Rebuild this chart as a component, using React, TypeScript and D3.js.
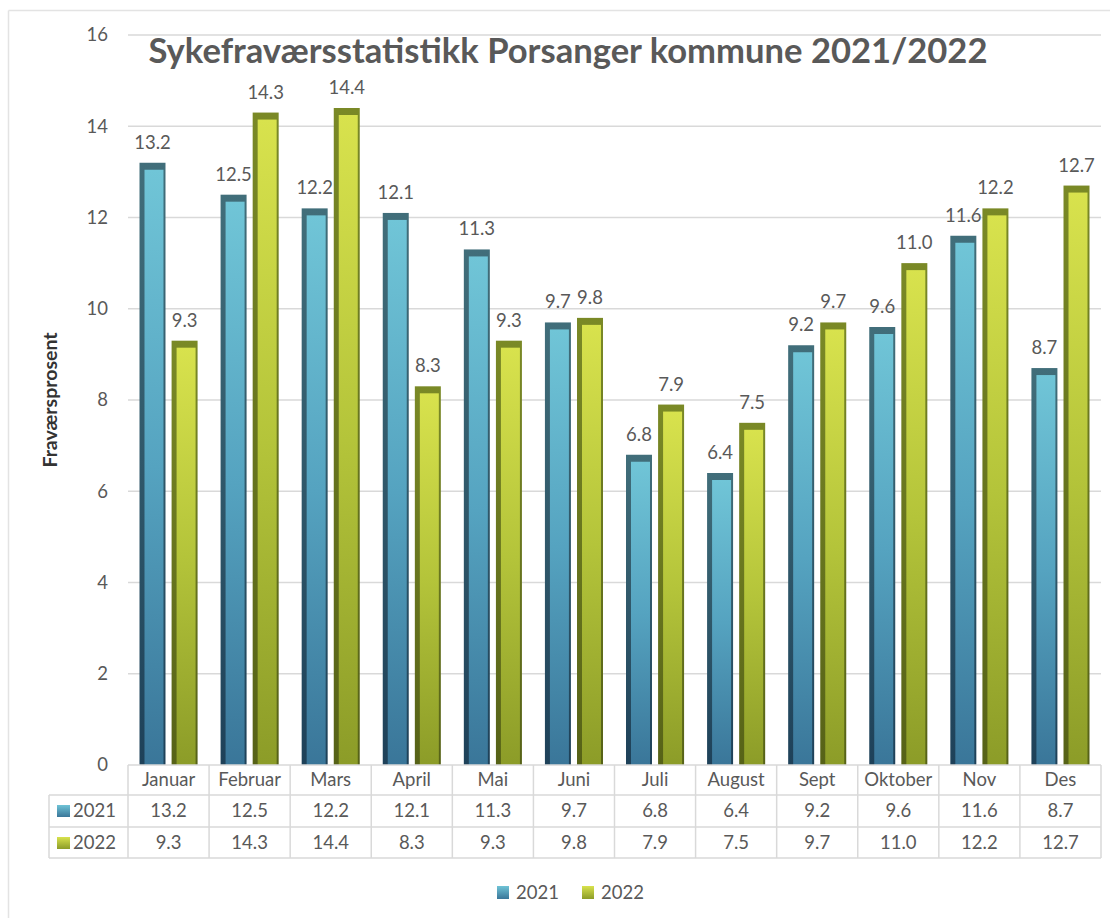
import React from "react";
import * as d3 from "d3";

const months = ["Januar", "Februar", "Mars", "April", "Mai", "Juni", "Juli", "August", "Sept", "Oktober", "Nov", "Des"];
const series = ["2021", "2022"];
const values2021 = [13.2, 12.5, 12.2, 12.1, 11.3, 9.7, 6.8, 6.4, 9.2, 9.6, 11.6, 8.7];
const values2022 = [9.3, 14.3, 14.4, 8.3, 9.3, 9.8, 7.9, 7.5, 9.7, 11.0, 12.2, 12.7];
const yTicks = [0, 2, 4, 6, 8, 10, 12, 14, 16];
const title = "Sykefraværsstatistikk Porsanger kommune 2021/2022";
const yTitle = "Fraværsprosent";

const FONT = "Lato, 'Open Sans', sans-serif";
const TXT = "#595959";
const GRID = "#d9d9d9";
const FS = 18.5;

export default function App() {
  const W = 1110, H = 918;
  const left = 128, right = 1101, top = 35, bottom = 765;
  const x = d3.scaleBand<string>().domain(months).range([left, right]).padding(0);
  const bw = x.bandwidth();
  const groupPad = 11.5;
  const xs = d3.scaleBand<string>().domain(series).range([groupPad, bw - groupPad]).paddingInner(0.19);
  const y = d3.scaleLinear().domain([0, 16]).range([bottom, top]);
  const data = [values2021, values2022];
  const rowTop = [765, 795, 827, 858];
  const tableLeft = 49;

  const bar = (s: number, i: number, v: number) => {
    const x0 = (x(months[i]) as number) + (xs(series[s]) as number);
    const w = xs.bandwidth();
    const y0 = y(v);
    const h = y(0) - y0;
    return (
      <g key={`b${s}-${i}`}>
        <rect x={x0} y={y0} width={w} height={h} fill={`url(#border${s})`} />
        <rect x={x0 + 5} y={y0 + 7} width={w - 7} height={Math.max(0, h - 7)} fill={`url(#fill${s})`} />
        <text x={x0 + w / 2} y={y0 - 14} textAnchor="middle" fontSize={FS} fill={TXT} fontFamily={FONT}>
          {v.toFixed(1)}
        </text>
      </g>
    );
  };

  return (
    <svg width={W} height={H} style={{ position: "absolute", left: 0, top: 0, background: "#fff" }}>
      <defs>
        <linearGradient id="fill0" x1="0" y1="0" x2="0" y2="1">
          <stop offset="0" stopColor="#70c5d7" />
          <stop offset="0.5" stopColor="#55a3c0" />
          <stop offset="1" stopColor="#3a7699" />
        </linearGradient>
        <linearGradient id="border0" x1="0" y1="0" x2="0" y2="1">
          <stop offset="0" stopColor="#416e7a" />
          <stop offset="1" stopColor="#1e4159" />
        </linearGradient>
        <linearGradient id="fill1" x1="0" y1="0" x2="0" y2="1">
          <stop offset="0" stopColor="#d8e24d" />
          <stop offset="0.5" stopColor="#b4c43a" />
          <stop offset="1" stopColor="#8c9c28" />
        </linearGradient>
        <linearGradient id="border1" x1="0" y1="0" x2="0" y2="1">
          <stop offset="0" stopColor="#7a8926" />
          <stop offset="1" stopColor="#566217" />
        </linearGradient>
        <linearGradient id="key0" x1="0" y1="0" x2="0" y2="1">
          <stop offset="0" stopColor="#6fc3d6" />
          <stop offset="1" stopColor="#3a7699" />
        </linearGradient>
        <linearGradient id="key1" x1="0" y1="0" x2="0" y2="1">
          <stop offset="0" stopColor="#d8e24d" />
          <stop offset="1" stopColor="#8c9c28" />
        </linearGradient>
      </defs>

      {/* outer frame */}
      <line x1={8.5} y1={10.5} x2={W} y2={10.5} stroke="#e3e3e3" strokeWidth={1.5} />
      <line x1={8.5} y1={10.5} x2={8.5} y2={H} stroke="#e3e3e3" strokeWidth={1.5} />

      {/* gridlines */}
      {yTicks.filter(t => t > 0).map(t => (
        <line key={`g${t}`} x1={left} x2={right} y1={y(t)} y2={y(t)} stroke={GRID} strokeWidth={1.5} />
      ))}
      {yTicks.map(t => (
        <text key={`t${t}`} x={108} y={y(t)} dy="0.35em" textAnchor="end" fontSize={FS} fill={TXT} fontFamily={FONT}>
          {t}
        </text>
      ))}

      {/* title */}
      <text x={568} y={63} textAnchor="middle" fontSize={34.6} fontWeight="bold" fill={TXT} fontFamily={FONT}>
        {title}
      </text>

      {/* y axis title */}
      <text transform="translate(57,400) rotate(-90)" textAnchor="middle" fontSize={19.5} fontWeight="bold" fill="#333" fontFamily={FONT}>
        {yTitle}
      </text>

      {/* bars */}
      {data.map((vals, s) => vals.map((v, i) => bar(s, i, v)))}

      {/* table */}
      <g stroke={GRID} strokeWidth={1.5} fill="none">
        <line x1={left} x2={right} y1={rowTop[0]} y2={rowTop[0]} />
        <line x1={tableLeft} x2={right} y1={rowTop[1]} y2={rowTop[1]} />
        <line x1={tableLeft} x2={right} y1={rowTop[2]} y2={rowTop[2]} />
        <line x1={tableLeft} x2={right} y1={rowTop[3]} y2={rowTop[3]} />
        <line x1={tableLeft} x2={tableLeft} y1={rowTop[1]} y2={rowTop[3]} />
        {months.map(m => (
          <line key={`v${m}`} x1={x(m) as number} x2={x(m) as number} y1={rowTop[0]} y2={rowTop[3]} />
        ))}
        <line x1={right} x2={right} y1={rowTop[0]} y2={rowTop[3]} />
      </g>
      {months.map(m => (
        <text key={`m${m}`} x={(x(m) as number) + bw / 2} y={(rowTop[0] + rowTop[1]) / 2} dy="0.35em" textAnchor="middle" fontSize={FS} fill={TXT} fontFamily={FONT}>
          {m}
        </text>
      ))}
      {data.map((vals, s) => (
        <g key={`row${s}`}>
          <rect x={57} y={rowTop[s + 1] + 10} width={13} height={12} fill={`url(#key${s})`} />
          <text x={73} y={(rowTop[s + 1] + rowTop[s + 2]) / 2} dy="0.35em" fontSize={FS} fill={TXT} fontFamily={FONT}>
            {series[s]}
          </text>
          {vals.map((v, i) => (
            <text key={`c${s}-${i}`} x={(x(months[i]) as number) + bw / 2} y={(rowTop[s + 1] + rowTop[s + 2]) / 2} dy="0.35em" textAnchor="middle" fontSize={FS} fill={TXT} fontFamily={FONT}>
              {v.toFixed(1)}
            </text>
          ))}
        </g>
      ))}

      {/* legend */}
      {series.map((s, k) => (
        <g key={`lg${s}`} transform={`translate(${497 + k * 85},0)`}>
          <rect x={0} y={886} width={12} height={13} fill={`url(#key${k})`} />
          <text x={19} y={892.5} dy="0.35em" fontSize={FS} fill={TXT} fontFamily={FONT}>
            {s}
          </text>
        </g>
      ))}
    </svg>
  );
}
